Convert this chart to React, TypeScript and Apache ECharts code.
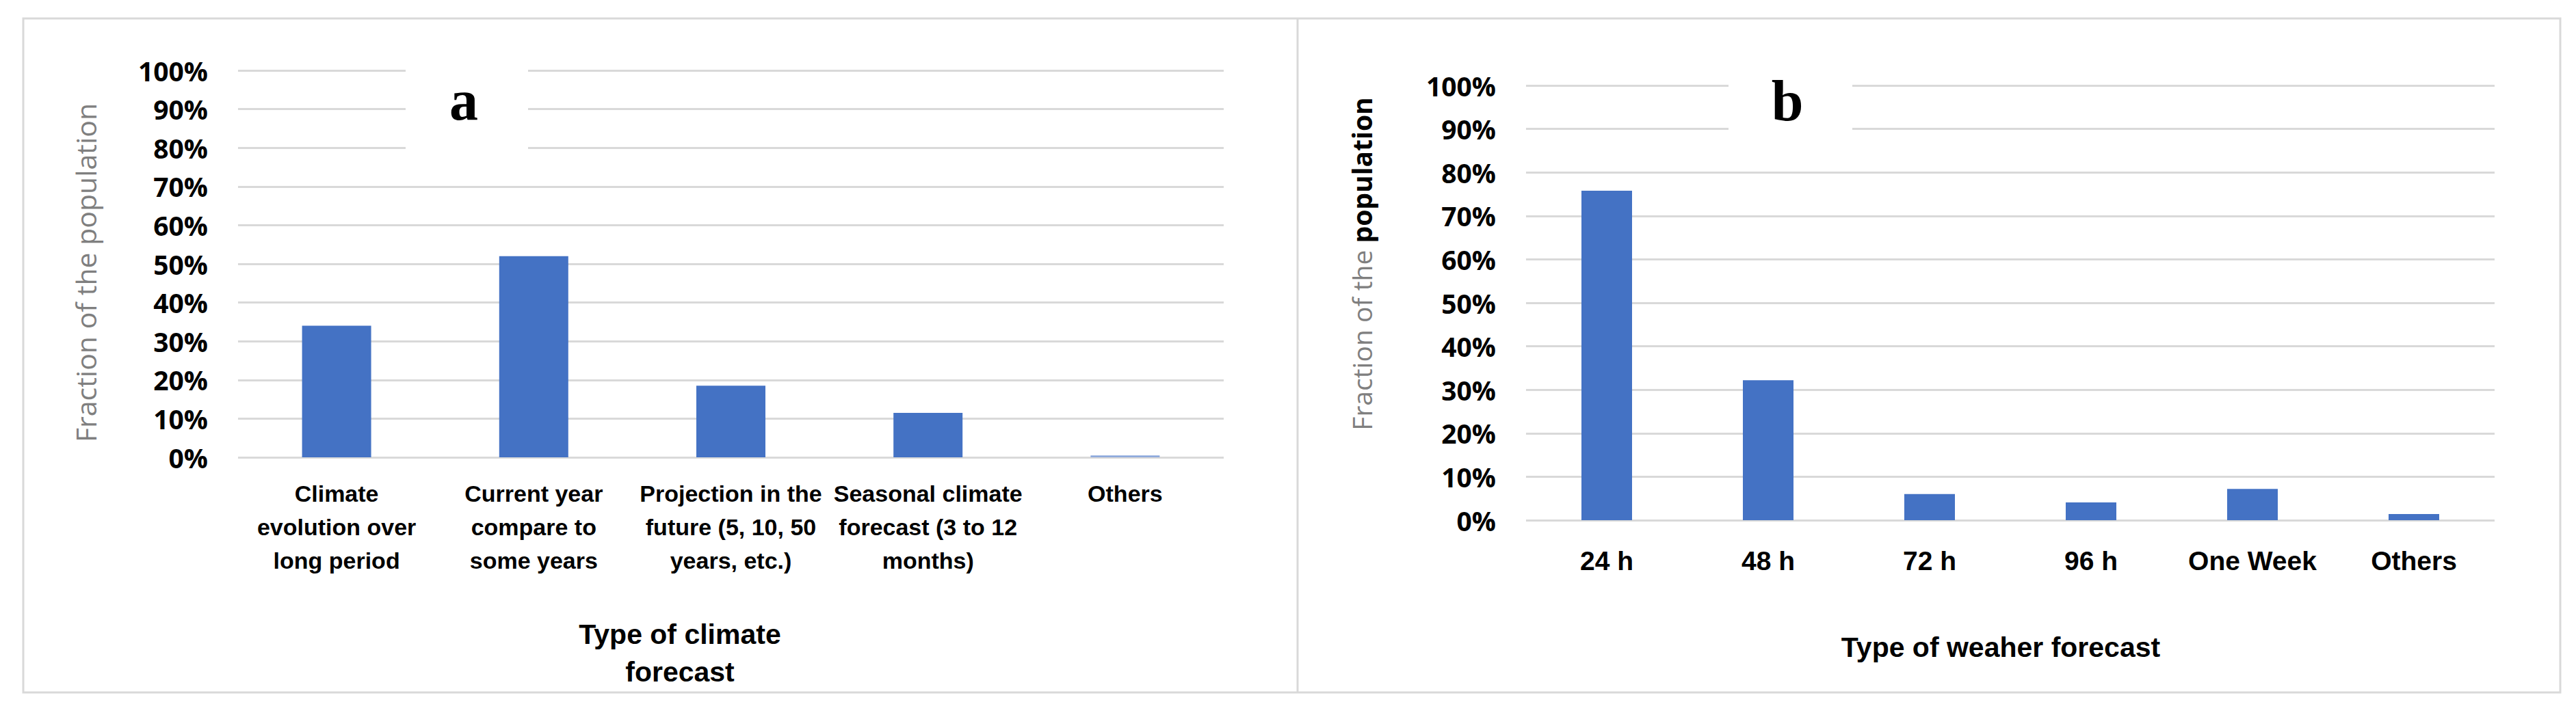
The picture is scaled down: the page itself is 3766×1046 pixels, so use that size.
import React, { useEffect, useRef } from 'react';
import * as echarts from 'echarts';

const climateCategories = [
  'Climate\nevolution over\nlong period',
  'Current year\ncompare to\nsome years',
  'Projection in the\nfuture (5, 10, 50\nyears, etc.)',
  'Seasonal climate\nforecast (3 to 12\nmonths)',
  'Others',
];
const climateValues = [34, 52, 18.5, 11.5, 0.5];

const weatherCategories = ['24 h', '48 h', '72 h', '96 h', 'One Week', 'Others'];
const weatherValues = [75.8, 32.2, 6.0, 4.1, 7.2, 1.4];

const yMin = 0;
const yMax = 100;
const yStep = 10;

const panelLetters = ['a', 'b'];
const yTitleLeft = 'Fraction of the population';
const yTitleRightGray = 'Fraction of the ';
const yTitleRightBold = 'population';
const xTitleLeft = 'Type of climate\nforecast';
const xTitleRight = 'Type of weaher forecast';

const BAR = '#4472C4';
const GRID = '#D9D9D9';
const TICK_FONT = { fontFamily: 'Open Sans', fontWeight: 'bold' as const, fontSize: 39, color: '#000' };

export default function App() {
  const ref = useRef<HTMLDivElement>(null);
  useEffect(() => {
    if (!ref.current) return;
    const chart = echarts.init(ref.current, undefined, { renderer: 'svg' });
    const yAxisBase = {
      type: 'value' as const,
      min: yMin,
      max: yMax,
      interval: yStep,
      axisLine: { show: false },
      axisTick: { show: false },
      splitLine: { show: true, lineStyle: { color: GRID, width: 3 } },
      axisLabel: { ...TICK_FONT, margin: 44, formatter: (v: number) => `${v}%` },
    };
    const option = {
      animation: false,
      backgroundColor: '#fff',
      grid: [
        { left: 348, top: 103, width: 1441, height: 566 },
        { left: 2231, top: 125, width: 1416, height: 636 },
      ],
      xAxis: [
        {
          type: 'category',
          gridIndex: 0,
          data: climateCategories,
          axisLine: { show: false },
          axisTick: { show: false },
          axisLabel: {
            interval: 0,
            margin: 28,
            fontFamily: 'Liberation Sans',
            fontWeight: 'bold',
            fontSize: 34,
            lineHeight: 49,
            color: '#000',
          },
        },
        {
          type: 'category',
          gridIndex: 1,
          data: weatherCategories,
          axisLine: { show: false },
          axisTick: { show: false },
          axisLabel: {
            interval: 0,
            margin: 36,
            fontFamily: 'Liberation Sans',
            fontWeight: 'bold',
            fontSize: 39,
            lineHeight: 46,
            color: '#000',
          },
        },
      ],
      yAxis: [
        { ...yAxisBase, gridIndex: 0 },
        { ...yAxisBase, gridIndex: 1 },
      ],
      series: [
        {
          type: 'bar',
          xAxisIndex: 0,
          yAxisIndex: 0,
          barWidth: 101,
          itemStyle: { color: BAR },
          data: climateValues.map((v, i) =>
            i === climateValues.length - 1 ? { value: v, itemStyle: { color: '#8FAADC' } } : v
          ),
        },
        {
          type: 'bar',
          xAxisIndex: 1,
          yAxisIndex: 1,
          barWidth: 74,
          itemStyle: { color: BAR },
          data: weatherValues,
        },
      ],
      graphic: [
        {
          type: 'rect',
          z: 1,
          shape: { x: 34, y: 27, width: 3709, height: 986 },
          style: { fill: 'none', stroke: GRID, lineWidth: 3 },
        },
        {
          type: 'line',
          z: 1,
          shape: { x1: 1897, y1: 27, x2: 1897, y2: 1013 },
          style: { stroke: GRID, lineWidth: 3 },
        },
        {
          type: 'rect',
          z: 50,
          shape: { x: 593, y: 92, width: 179, height: 140 },
          style: { fill: '#fff' },
        },
        {
          type: 'rect',
          z: 50,
          shape: { x: 2527, y: 112, width: 181, height: 100 },
          style: { fill: '#fff' },
        },
        {
          type: 'text',
          z: 60,
          x: 678,
          y: 146,
          style: {
            text: panelLetters[0],
            fontFamily: 'Liberation Serif',
            fontWeight: 'bold',
            fontSize: 84,
            fill: '#000',
            align: 'center',
            verticalAlign: 'middle',
          },
        },
        {
          type: 'text',
          z: 60,
          x: 2613,
          y: 147,
          style: {
            text: panelLetters[1],
            fontFamily: 'Liberation Serif',
            fontWeight: 'bold',
            fontSize: 84,
            fill: '#000',
            align: 'center',
            verticalAlign: 'middle',
          },
        },
        {
          type: 'text',
          z: 60,
          x: 125,
          y: 399,
          rotation: Math.PI / 2,
          style: {
            text: yTitleLeft,
            fontFamily: 'Open Sans',
            fontSize: 41,
            fill: '#7F7F7F',
            align: 'center',
            verticalAlign: 'middle',
          },
        },
        {
          type: 'text',
          z: 60,
          x: 1990,
          y: 386,
          rotation: Math.PI / 2,
          style: {
            text: `{g|${yTitleRightGray}}{b|${yTitleRightBold}}`,
            align: 'center',
            verticalAlign: 'middle',
            rich: {
              g: { fontFamily: 'Open Sans', fontSize: 39, fill: '#7F7F7F' },
              b: { fontFamily: 'Open Sans', fontSize: 39, fontWeight: 'bold', fill: '#000' },
            },
          },
        },
        {
          type: 'text',
          z: 60,
          x: 994,
          y: 900,
          style: {
            text: xTitleLeft,
            fontFamily: 'Liberation Sans',
            fontWeight: 'bold',
            fontSize: 41,
            lineHeight: 55,
            fill: '#000',
            align: 'center',
            verticalAlign: 'top',
          },
        },
        {
          type: 'text',
          z: 60,
          x: 2925,
          y: 947,
          style: {
            text: xTitleRight,
            fontFamily: 'Liberation Sans',
            fontWeight: 'bold',
            fontSize: 41,
            fill: '#000',
            align: 'center',
            verticalAlign: 'middle',
          },
        },
      ],
    };
    chart.setOption(option as any);
    return () => chart.dispose();
  }, []);
  return (
    <div
      ref={ref}
      style={{ position: 'fixed', left: 0, top: 0, width: 3766, height: 1046, background: '#fff' }}
    />
  );
}
